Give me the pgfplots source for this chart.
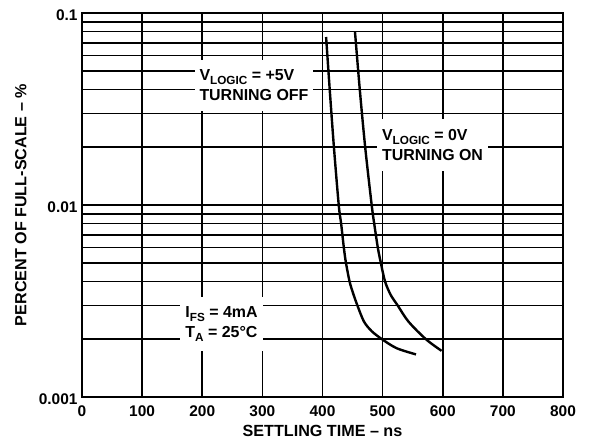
\documentclass[border=0pt]{standalone}
\usepackage{fontspec}
\setmainfont{Liberation Sans}
\usepackage{pgfplots}
\pgfplotsset{compat=1.18}
\newcommand\sub[1]{\raisebox{-3.5bp}{\fontsize{11.8}{12}\selectfont #1}}
\newcommand\tickfont{\fontsize{15.5}{17}\selectfont\bfseries}
\begin{document}
\begin{tikzpicture}
\begin{axis}[
    scale only axis, width=481bp, height=384bp,
    xmin=0, xmax=800, ymode=log, ymin=0.001, ymax=0.1,
    xtick={0,100,200,300,400,500,600,700,800},
    xticklabels={{\tickfont 0},{\tickfont 100},{\tickfont 200},{\tickfont 300},
        {\tickfont 400},{\tickfont 500},{\tickfont 600},{\tickfont 700},{\tickfont 800}},
    ytick={0.001,0.01,0.1},
    yticklabels={{\tickfont 0.001},{\tickfont 0.01},{\tickfont 0.1}},
    minor ytick={0.002,0.003,0.004,0.005,0.006,0.007,0.008,0.009,
                 0.02,0.03,0.04,0.05,0.06,0.07,0.08,0.09},
    grid=both,
    major grid style={black, line width=1.7bp},
    minor grid style={black, line width=1.5bp},
    axis line style={line width=2.4bp},
    tick style={draw=none},
    every tick label/.append style={font=\tickfont},
    xticklabel style={yshift=-5bp},
    yticklabel style={yshift=-2bp, xshift=-1bp},
    label style={font=\fontsize{16.2}{18}\selectfont\bfseries},
    xlabel={SETTLING TIME – ns},
    ylabel={PERCENT OF FULL-SCALE – \%},
    xlabel style={at={(axis description cs:0.5,-0.0885)}, anchor=center},
    ylabel style={at={(axis description cs:-0.127,0.5)}, anchor=center},
]
% V_LOGIC = +5V, turning off
\addplot[black, line width=2.4bp, smooth, tension=0.5] coordinates {
    (406,0.075) (412,0.04) (419,0.02) (427,0.01) (431,0.008)
    (435.5,0.006) (439,0.005) (445,0.004) (450.5,0.0035) (458,0.003)
    (469,0.00247) (482,0.0022) (499,0.002) (523.4,0.001795) (555.5,0.001667)
};
% V_LOGIC = 0V, turning on
\addplot[black, line width=2.4bp, smooth, tension=0.5] coordinates {
    (454,0.080) (462,0.04) (471,0.02) (481.8,0.01) (486,0.008)
    (492,0.006) (497,0.005) (504,0.004) (513.5,0.0034) (525,0.003)
    (543,0.00247) (572,0.002) (598,0.00174)
};
\begin{scope}[every node/.style={fill=white, align=left, inner xsep=5bp,
    inner ysep=10bp, font=\fontsize{16}{20}\selectfont\bfseries}]
\node at (axis cs:286,0.0419) {V\sub{LOGIC} = +5V\\TURNING OFF};
\node at (axis cs:583,0.02054) {V\sub{LOGIC} = 0V\\TURNING ON};
\node at (axis cs:232,0.0024) {I\sub{FS} = 4mA\\T\sub{A} = 25°C};
\end{scope}
\end{axis}
\path ([xshift=-82bp,yshift=-42bp]current axis.south west) rectangle
      ([xshift=27bp,yshift=13bp]current axis.north east);
\end{tikzpicture}
\end{document}
